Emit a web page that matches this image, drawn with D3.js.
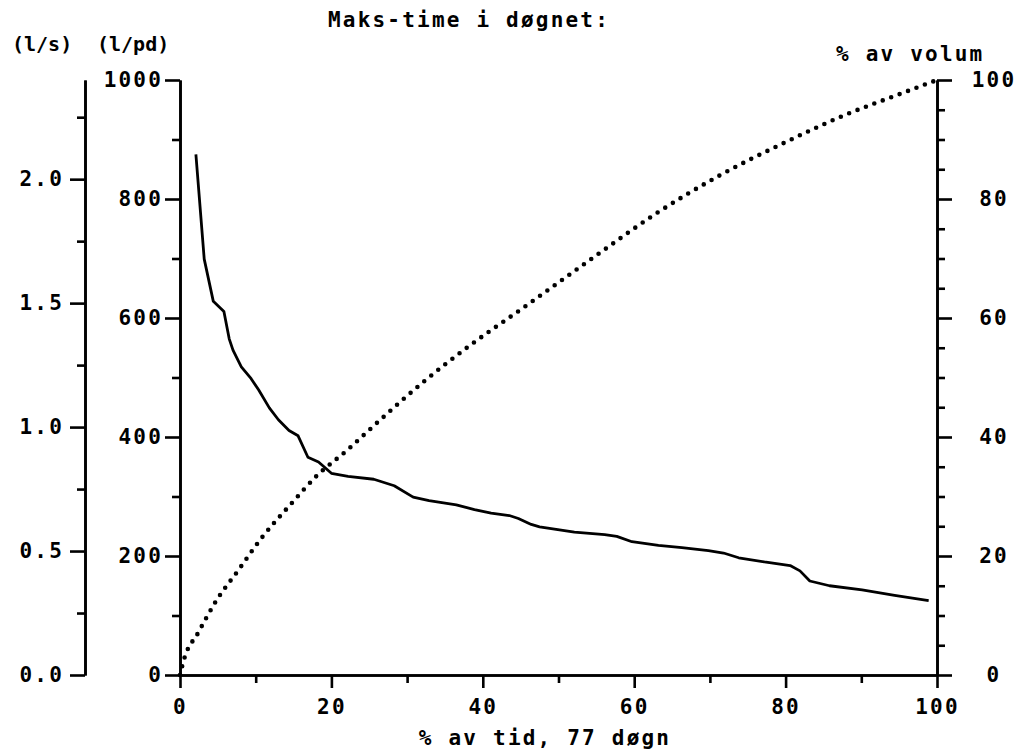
<!DOCTYPE html>
<html lang="no">
<head>
    <meta charset="UTF-8">
    <title>Maks-time i døgnet</title>
    <script src="https://d3js.org/d3.v7.min.js"></script>
    <style>
        body { margin: 0; background: #fff; }
        text { font-family: "DejaVu Sans Mono", monospace; font-weight: bold; font-size: 21px; letter-spacing: 2.2px; fill: #000; }
        .unit { font-size: 20px; letter-spacing: 0; }
        .axis path, .axis line { stroke: #000; stroke-width: 2.6; }
    </style>
</head>
<body>
    <div id="chart"></div>

    <script>
        // solid line: l/pd against % av tid
        var timePct = [2.1, 3.2, 4.4, 5.8, 6.5, 7.0, 8.1, 9.4, 10.4, 11.8, 13.0, 14.4, 15.6, 16.9, 18.3,
            20.0, 22.2, 25.6, 28.3, 30.8, 32.9, 36.5, 38.9, 41.1, 43.5, 44.7, 46.4, 47.5, 52.1, 56.1,
            57.7, 59.7, 63.2, 66.3, 69.8, 71.8, 73.8, 77.2, 80.6, 81.9, 83.2, 85.8, 90.1, 94.4, 98.9];
        var flowLpd = [875, 699, 628, 611, 565, 546, 518, 498, 479, 449, 429, 411, 402, 366, 358,
            339, 334, 329, 318, 299, 293, 286, 278, 272, 268, 263, 253, 249, 240, 236,
            233, 224, 218, 214, 209, 205, 197, 190, 184, 175, 158, 150, 143, 134, 125];

        // dotted line: % av volum against % av tid
        var volTimePct = [0, 0.5, 2.4, 4.8, 7.7, 10.7, 14.7, 18.0, 22.0, 26.3, 32.1, 38.2, 45.1,
            55.3, 62.7, 71.2, 79.9, 87.8, 95.0, 100];
        var volumePct = [0, 2.5, 7.1, 12.5, 17.6, 22.9, 28.8, 33.4, 37.7, 42.7, 49.2, 55.3, 61.5,
            70.8, 77.4, 83.9, 89.5, 94.1, 97.6, 100];

        var xTicks = [0, 20, 40, 60, 80, 100];
        var xMinor = [10, 30, 50, 70, 90];
        var lpdTicks = [0, 200, 400, 600, 800, 1000];
        var lpdMinor = [100, 300, 500, 700, 900];
        var lsTicks = [0, 0.5, 1.0, 1.5, 2.0];
        var lsMinor = [0.25, 0.75, 1.25, 1.75, 2.25];
        var volTicks = [0, 20, 40, 60, 80, 100];
        var volMinor = [5, 10, 15, 25, 30, 35, 45, 50, 55, 65, 70, 75, 85, 90, 95];

        var w = 1018;
        var h = 756;
        var svg = d3.select("#chart").append("svg")
            .attr("width", w)
            .attr("height", h);

        var xScale = d3.scaleLinear().domain([0, 100]).range([180, 937]);
        var yScale = d3.scaleLinear().domain([0, 1000]).range([675, 80]);
        var lsScale = d3.scaleLinear().domain([0, 2.4]).range([675, 80]);
        var volScale = d3.scaleLinear().domain([0, 100]).range([675, 80]);

        function drawAxis(axisFn, scale, major, minor, tx, ty, fmt, pad) {
            svg.append("g")
                .attr("class", "axis")
                .attr("transform", "translate(" + tx + "," + ty + ")")
                .call(axisFn(scale).tickValues(minor).tickSize(8).tickSizeOuter(0).tickFormat(""));
            return svg.append("g")
                .attr("class", "axis")
                .attr("transform", "translate(" + tx + "," + ty + ")")
                .call(axisFn(scale).tickValues(major).tickSize(15).tickSizeOuter(0)
                    .tickPadding(pad).tickFormat(fmt));
        }

        var xAxis = drawAxis(d3.axisBottom, xScale, xTicks, xMinor, 0, 675, d3.format("d"), 9);
        xAxis.selectAll("line").attr("y2", 13);

        drawAxis(d3.axisLeft, yScale, lpdTicks, lpdMinor, 180, 0, d3.format("d"), 2);
        drawAxis(d3.axisLeft, lsScale, lsTicks, lsMinor, 85, 0, d3.format(".1f"), 6);

        var rAxis = drawAxis(d3.axisRight, volScale, volTicks, volMinor, 937, 0, d3.format("d"), 0);
        rAxis.selectAll("text")
            .attr("x", 57)
            .style("text-anchor", "middle");

        // curves
        var solid = d3.line()
            .x(function(d) { return xScale(d[0]); })
            .y(function(d) { return yScale(d[1]); });

        svg.append("path")
            .datum(d3.zip(timePct, flowLpd))
            .attr("d", solid)
            .attr("fill", "none")
            .attr("stroke", "#000")
            .attr("stroke-width", 2.8)
            .attr("stroke-linejoin", "round");

        var dotted = d3.line()
            .curve(d3.curveMonotoneX)
            .x(function(d) { return xScale(d[0]); })
            .y(function(d) { return volScale(d[1]); });

        svg.append("path")
            .datum(d3.zip(volTimePct, volumePct))
            .attr("d", dotted)
            .attr("fill", "none")
            .attr("stroke", "#000")
            .attr("stroke-width", 4.6)
            .attr("stroke-linecap", "round")
            .attr("stroke-dasharray", "0,9");

        // labels
        svg.append("text").attr("x", 469).attr("y", 27)
            .attr("text-anchor", "middle").text("Maks-time i døgnet:");
        svg.append("text").attr("class", "unit").attr("x", 12).attr("y", 51).text("(l/s)");
        svg.append("text").attr("class", "unit").attr("x", 97).attr("y", 51).text("(l/pd)");
        svg.append("text").attr("x", 836).attr("y", 61).text("% av volum");
        svg.append("text").attr("x", 545).attr("y", 745)
            .attr("text-anchor", "middle").text("% av tid, 77 døgn");
    </script>
</body>
</html>
